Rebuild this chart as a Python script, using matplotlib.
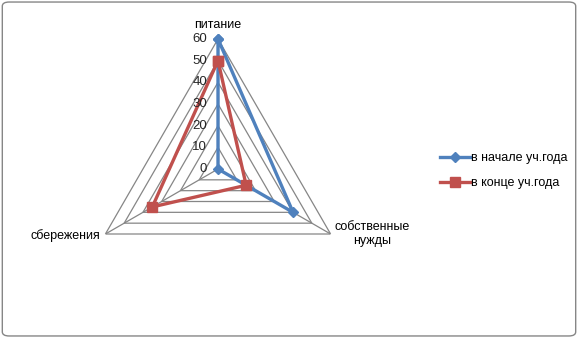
import numpy as np
import matplotlib
matplotlib.use("Agg")
import matplotlib.pyplot as plt
from matplotlib.patches import FancyBboxPatch
from matplotlib import transforms

categories = ["питание", "собственные\nнужды", "сбережения"]
series_names = ["в начале уч.года", "в конце уч.года"]
start_values = [60, 40, 0]
end_values = [50, 15, 35]
r_ticks = [0, 10, 20, 30, 40, 50, 60]

plt.rcParams["font.family"] = ["Liberation Sans", "DejaVu Sans"]

colors = ["#4F81BD", "#C0504D"]
markers = ["D", "s"]
msizes = [5.5, 7]

fig = plt.figure(figsize=(5.78, 3.38), dpi=100)
fig.patch.set_facecolor("white")
border = FancyBboxPatch((0.004, 0.006), 0.992, 0.988, boxstyle="round,pad=0,rounding_size=0.012",
                        transform=fig.transFigure, fill=False, edgecolor="#868686", linewidth=1.0)
fig.add_artist(border)

ax = fig.add_axes([88 / 578, 39 / 338, 260 / 578, 260 / 338], projection="polar")
ax.set_theta_offset(np.pi / 2)
ax.set_theta_direction(-1)
n = len(categories)
theta = np.arange(n) * 2 * np.pi / n
ax.set_ylim(0, 60)
ax.grid(False)
ax.spines["polar"].set_visible(False)
ax.set_xticks([])
ax.set_yticks([])
ax.patch.set_alpha(0)

closed_t = np.append(theta, theta[0])
grid_col = "#868686"
for v in r_ticks[1:]:
    ax.plot(closed_t, [v] * (n + 1), color=grid_col, lw=0.9, zorder=1)
for t in theta:
    ax.plot([t, t], [0, 60], color=grid_col, lw=0.9, zorder=1)

for vals, c, m, ms, name in zip([start_values, end_values], colors, markers, msizes, series_names):
    ax.plot(closed_t, list(vals) + [vals[0]], color=c, lw=2.4, marker=m, markersize=ms,
            label=name, zorder=3, clip_on=False)

fs = 9
for v in r_ticks:
    tr = transforms.offset_copy(ax.transData, fig=fig, x=-11, y=0, units="dots")
    ax.text(0, v, str(v), transform=tr, ha="right", va="center", fontsize=9.5, color="#262626")

# category labels
tr0 = transforms.offset_copy(ax.transData, fig=fig, x=0, y=14, units="dots")
ax.text(theta[0], 60, categories[0], transform=tr0, ha="center", va="center", fontsize=fs)
tr1 = transforms.offset_copy(ax.transData, fig=fig, x=4, y=0, units="dots")
ax.text(theta[1], 60, categories[1], transform=tr1, ha="left", va="center", fontsize=fs,
        multialignment="center", linespacing=1.15)
tr2 = transforms.offset_copy(ax.transData, fig=fig, x=-5, y=-2, units="dots")
ax.text(theta[2], 60, categories[2], transform=tr2, ha="right", va="center", fontsize=fs)

fig.legend(loc="upper left", bbox_to_anchor=(440 / 578, 1 - 152 / 338), frameon=False,
           fontsize=fs, handlelength=2.4, handletextpad=0.1, labelspacing=1.05,
           borderaxespad=0, borderpad=0)

fig.savefig("out.png", dpi=100)
